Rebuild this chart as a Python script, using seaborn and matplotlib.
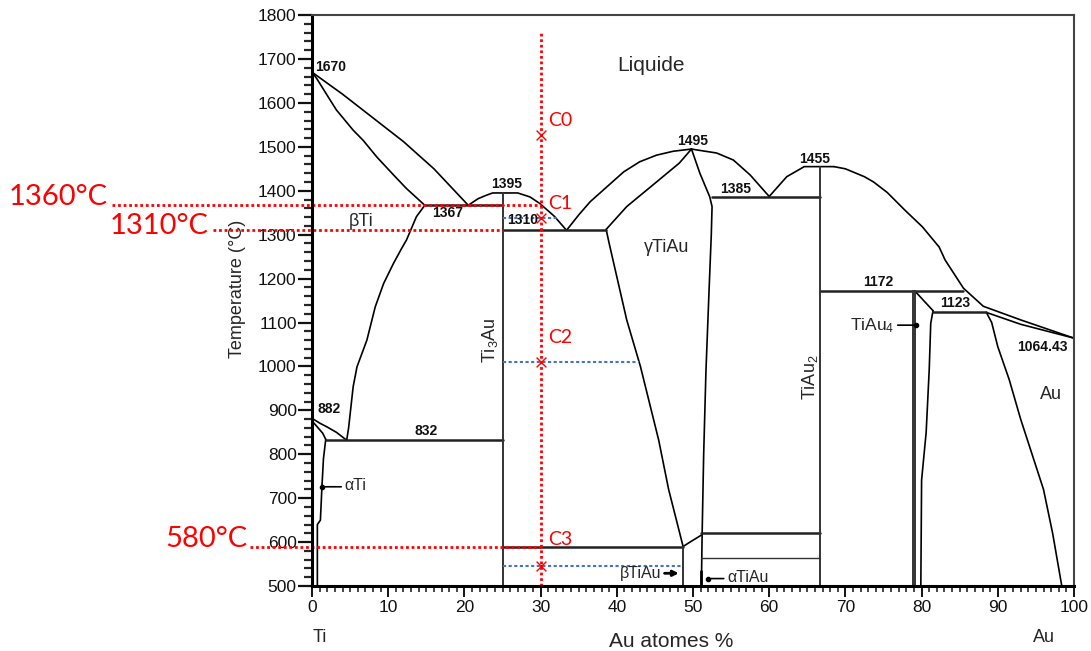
import matplotlib
matplotlib.use("Agg")
import matplotlib.pyplot as plt
from matplotlib.ticker import MultipleLocator
import seaborn as sns

# ---- phase boundaries (Au at.%, temperature in C) ----
ti_liquidus = [(0, 1670), (4, 1620), (8, 1566), (12, 1512), (16, 1450), (20.5, 1367)]
ti_solidus = [(0, 1670), (0.6, 1656), (2.4, 1606), (3.2, 1584), (5.4, 1538), (6.7, 1515),
              (8.5, 1477), (10.7, 1436), (12.4, 1405), (14.8, 1367)]
bti_solvus = [(14.8, 1367), (13.7, 1341), (12.4, 1288), (11.8, 1270), (10.7, 1235), (9.4, 1189),
              (8.3, 1136), (7.2, 1060), (5.9, 999), (5.4, 954), (4.8, 860), (4.55, 832)]
bti_transus = [(0, 882), (1.0, 871), (2.0, 862), (3.2, 850), (4.55, 832)]
ati_transus = [(0, 876), (0.8, 860), (1.4, 848), (1.8, 834)]
ati_solvus = [(1.8, 834), (1.5, 790), (1.3, 726), (1.1, 650), (0.7, 640), (0.7, 500)]
ti3au_liquidus = [(20.5, 1367), (21.8, 1382), (22.9, 1390), (23.7, 1395), (27.0, 1395),
                  (28.6, 1386), (29.9, 1371), (31.8, 1342), (33.4, 1310)]
tiau_liquidus_l = [(33.4, 1310), (35, 1345), (36.5, 1375), (38.7, 1409), (40.9, 1443),
                   (43, 1466), (45.2, 1481), (47.4, 1490), (49.8, 1495)]
gtiau_solidus_l = [(38.6, 1312), (41.3, 1364), (45, 1417), (48.2, 1463), (49.8, 1495)]
gtiau_solvus_l = [(38.6, 1312), (39.0, 1280), (41.3, 1106), (43.1, 1000), (45.5, 832),
                  (46.8, 720), (48.7, 590)]
tiau_solidus_r = [(49.8, 1495), (50.9, 1440), (52.2, 1386), (52.5, 1364), (52.4, 1300),
                  (52.1, 1170), (51.7, 990), (51.4, 800), (51.2, 620), (51.1, 500)]
tiau_liquidus_r = [(49.8, 1495), (50.5, 1493), (53.1, 1486), (55.3, 1470), (57.5, 1436),
                   (60.0, 1387)]
tiau2_liquidus_l = [(60.0, 1387), (62.3, 1432), (64.1, 1450), (64.6, 1455), (68.5, 1455)]
tiau2_liquidus_r = [(68.5, 1455), (70, 1450), (72.5, 1432), (73.7, 1420), (75.5, 1396),
                    (77.8, 1356), (80.1, 1318), (82.3, 1272), (83.1, 1242), (85.5, 1178),
                    (88.1, 1137), (93, 1106), (100, 1064.43)]
au_solidus = [(88.5, 1123), (93, 1096), (100, 1064.43)]
au_solvus_r = [(88.5, 1123), (89.2, 1100), (90, 1045), (91.5, 970), (93, 880), (94.5, 800),
               (96, 720), (97.2, 620), (98.4, 500)]
au_solvus_l = [(81.5, 1127), (81.2, 1098), (81.0, 992), (80.6, 850), (80.0, 741), (79.9, 500)]
tiau4_peritectic = [(79.1, 1172), (81.5, 1127)]
btiau_link = [(48.7, 590), (49.6, 600), (51.1, 616)]

# invariant lines: (T, x_start, x_end)
horizontals = [(1367, 14.8, 25), (1310, 25, 38.6), (1385, 52.5, 66.7), (1172, 66.7, 85.5),
               (1123, 81.5, 88.5), (832, 1.8, 25), (590, 25, 48.7), (620, 51.1, 66.7)]
thin_horizontals = [(564, 51.1, 66.7)]
# compound lines: (x, T_bottom, T_top)
verticals = [(25, 500, 1395), (66.7, 500, 1455), (78.9, 500, 1172), (79.2, 500, 1172),
             (48.7, 500, 590)]

# annotations (text, x, T)
temp_labels = [("1670", 0.4, 1682), ("1395", 25.5, 1415), ("1367", 17.8, 1349),
               ("1310", 27.7, 1333), ("1495", 49.9, 1513), ("1385", 55.6, 1404),
               ("1455", 66.0, 1472), ("1172", 74.3, 1192), ("1123", 84.4, 1144),
               ("1064.43", 95.9, 1044), ("882", 2.2, 903), ("832", 15.0, 853)]
phase_labels = [("Liquide", 44.5, 1686), ("βTi", 6.4, 1329), ("γTiAu", 46.5, 1270),
                ("Au", 97.0, 937)]

# student construction (red / blue)
cut_x = 30
c_points_t = [1527, 1337, 1010, 545]
c_names = ["C0", "C1", "C2", "C3"]
c_label_t = [1561, 1370, 1067, 605]
red_temps = [1367, 1310, 590]
red_texts = ["1360°C", "1310°C", "580°C"]
red_start_x = [-26.2, -13.0, -8.1]
red_end_x = [30, 25, 30]
red_text_x = [-26.8, -13.6, -8.5]
red_text_t = [1367, 1301, 589]
blue_lines = [(1337, 25, 32.1), (1010, 25, 42.9), (545, 25, 48.5)]


def draw(ax, pts, lw=1.2, color="black"):
    xs = [p[0] for p in pts]
    ts = [p[1] for p in pts]
    sns.lineplot(x=xs, y=ts, sort=False, estimator=None, ax=ax, color=color, lw=lw)


sns.set_theme(style="white")
plt.rcParams["font.family"] = ["Liberation Sans", "DejaVu Sans"]
plt.rcParams["mathtext.fontset"] = "custom"
plt.rcParams["mathtext.rm"] = "Liberation Sans"
plt.rcParams["mathtext.it"] = "Liberation Sans"

fig = plt.figure(figsize=(10.91, 6.51), dpi=100)
ax = fig.add_axes([0.286, 0.0998, 0.6984, 0.877])

for curve in [ti_liquidus, ti_solidus, bti_solvus, bti_transus, ati_transus, ati_solvus,
              ti3au_liquidus, tiau_liquidus_l, gtiau_solidus_l, gtiau_solvus_l,
              tiau_solidus_r, tiau_liquidus_r, tiau2_liquidus_l, tiau2_liquidus_r,
              au_solidus, au_solvus_r, au_solvus_l, tiau4_peritectic, btiau_link]:
    draw(ax, curve)

for t, x0, x1 in horizontals:
    draw(ax, [(x0, t), (x1, t)], lw=1.8, color="#222222")
for t, x0, x1 in thin_horizontals:
    draw(ax, [(x0, t), (x1, t)], lw=1.0, color="#333333")
for x, t0, t1 in verticals:
    draw(ax, [(x, t0), (x, t1)], lw=1.4, color="#333333")

# small arrows pointing at narrow phases
ax.annotate("", xy=(1.3, 726), xytext=(4.2, 726),
            arrowprops=dict(arrowstyle="-", color="black", lw=1.2))
ax.plot([1.3], [726], "o", color="black", ms=3)
ax.text(4.3, 728, "αTi", fontsize=11.5, va="center", ha="left")
ax.annotate("", xy=(48.5, 529), xytext=(45.9, 529),
            arrowprops=dict(arrowstyle="-|>", color="black", lw=2, mutation_scale=8))
ax.text(45.9, 529, "βTiAu", fontsize=11.5, va="center", ha="right")
ax.annotate("", xy=(52.0, 517), xytext=(54.4, 517),
            arrowprops=dict(arrowstyle="-", color="black", lw=1.2))
ax.plot([52.0], [517], "o", color="black", ms=3)
draw(ax, [(51.0, 505), (51.0, 535)], lw=2.0)
ax.text(54.5, 519, "αTiAu", fontsize=11.5, va="center", ha="left")
ax.annotate("", xy=(79.3, 1094), xytext=(76.5, 1094),
            arrowprops=dict(arrowstyle="-", color="black", lw=1.2))
ax.plot([79.3], [1094], "o", color="black", ms=3)
ax.text(76.4, 1094, r"TiAu$_4$", fontsize=12.5, va="center", ha="right")

ax.text(23.4, 1060, r"Ti$_3$Au", fontsize=13, rotation=90, ha="center", va="center")
ax.text(65.4, 975, r"TiAu$_2$", fontsize=13, rotation=90, ha="center", va="center")

for txt, x, t in temp_labels:
    ha = "left" if txt == "1670" else "center"
    ax.text(x, t, txt, fontsize=10, ha=ha, va="center", fontweight="bold", color="#111111")
for txt, x, t in phase_labels:
    fs = 15 if txt == "Liquide" else 13
    ax.text(x, t, txt, fontsize=fs, ha="center", va="center")

# red construction
draw(ax, [(cut_x, 500), (cut_x, 1762)], lw=2.0, color="red")
ax.lines[-1].set_linestyle((0, (1, 1)))
for t, x0, x1 in zip(red_temps, red_start_x, red_end_x):
    draw(ax, [(x0, t), (x1, t)], lw=2.0, color="red")
    ax.lines[-1].set_linestyle((0, (1, 1)))
    ax.lines[-1].set_clip_on(False)
for t, x0, x1 in blue_lines:
    draw(ax, [(x0, t), (x1, t)], lw=1.5, color="#4472C4")
    ax.lines[-1].set_linestyle((0, (1.5, 1.2)))
sns.scatterplot(x=[cut_x] * len(c_points_t), y=c_points_t, marker="x", color="red",
                s=50, linewidth=1.0, ax=ax, zorder=5)
for name, t in zip(c_names, c_label_t):
    ax.text(cut_x + 1.0, t, name, color="red", fontsize=14, family=["Lato", "DejaVu Sans"],
            ha="left", va="center")
for txt, x, t in zip(red_texts, red_text_x, red_text_t):
    ax.text(x, t, txt, color="red", fontsize=21, family=["Lato", "DejaVu Sans"],
            ha="right", va="baseline", clip_on=False)

ax.set_xlim(0, 100)
ax.set_ylim(500, 1800)
ax.xaxis.set_major_locator(MultipleLocator(10))
ax.xaxis.set_minor_locator(MultipleLocator(1))
ax.yaxis.set_major_locator(MultipleLocator(100))
ax.yaxis.set_minor_locator(MultipleLocator(20))
ax.tick_params(axis="y", which="major", left=True, direction="out", length=10, width=1.6,
               labelsize=12.5, pad=1, colors="#111111")
ax.tick_params(axis="y", which="minor", left=True, direction="out", length=6, width=1.6)
ax.tick_params(axis="x", which="major", bottom=True, direction="out", length=8, width=1.4,
               labelsize=12.5, pad=2, colors="#111111")
ax.tick_params(axis="x", which="minor", bottom=True, direction="out", length=4.5, width=1.2)

for side in ["left", "bottom"]:
    ax.spines[side].set_linewidth(2.2)
    ax.spines[side].set_color("black")
for side in ["top", "right"]:
    ax.spines[side].set_linewidth(1.5)
    ax.spines[side].set_color("#444444")

ax.set_ylabel("Temperature (°C)", fontsize=13)
ax.yaxis.set_label_coords(-0.087, 0.52)
ax.set_xlabel("Au atomes %", fontsize=15)
ax.xaxis.set_label_coords(0.472, -0.08)
ax.text(1.0, -0.09, "Ti", transform=ax.get_xaxis_transform(), fontsize=13,
        ha="center", va="center")
ax.text(96.1, -0.09, "Au", transform=ax.get_xaxis_transform(), fontsize=13,
        ha="center", va="center")

fig.savefig("out.png", dpi=100)
